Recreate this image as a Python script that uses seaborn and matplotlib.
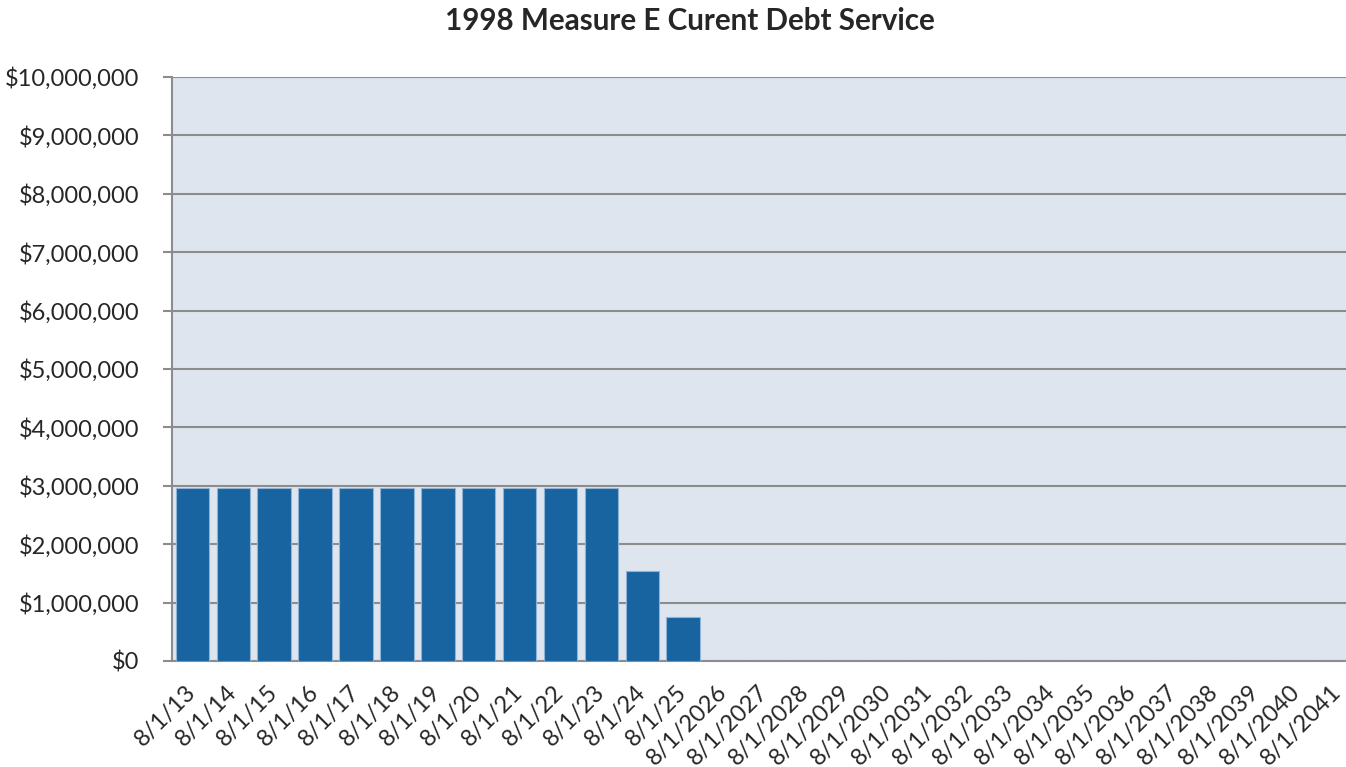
import matplotlib
matplotlib.use("Agg")
import matplotlib.pyplot as plt
from matplotlib.ticker import FuncFormatter, FixedLocator
import seaborn as sns
import pandas as pd
import numpy as np

# Debt service payment dates and amounts
dates = ["8/1/13", "8/1/14", "8/1/15", "8/1/16", "8/1/17", "8/1/18", "8/1/19",
         "8/1/20", "8/1/21", "8/1/22", "8/1/23", "8/1/24", "8/1/25",
         "8/1/2026", "8/1/2027", "8/1/2028", "8/1/2029", "8/1/2030", "8/1/2031",
         "8/1/2032", "8/1/2033", "8/1/2034", "8/1/2035", "8/1/2036", "8/1/2037",
         "8/1/2038", "8/1/2039", "8/1/2040", "8/1/2041"]
payments = [2955000, 2955000, 2955000, 2955000, 2955000, 2955000, 2955000,
            2955000, 2955000, 2955000, 2955000, 1540000, 750000,
            0, 0, 0, 0, 0, 0, 0, 0, 0, 0, 0, 0, 0, 0, 0, 0]
title = "1998 Measure E Curent Debt Service"

df = pd.DataFrame({"date": dates, "payment": payments})

sns.set_style("white")
plt.rcParams["font.family"] = ["Lato", "DejaVu Sans"]

W, H = 1346, 767
left, right, top, bottom = 172, 1358, 77, 661
fig = plt.figure(figsize=(W / 100, H / 100), dpi=100)
ax = fig.add_axes([left / W, 1 - bottom / H, (right - left) / W, (bottom - top) / H])
ax.set_facecolor("#DFE5EF")

sns.barplot(data=df, x="date", y="payment", color="#1764A0", width=0.82,
            edgecolor="#8FB3D6", linewidth=0.8, saturation=1, ax=ax, zorder=3)

ax.set_xlim(-0.5, len(dates) - 0.5)
ax.set_ylim(0, 10_000_000)
ax.set_yticks(np.arange(0, 10_000_001, 1_000_000))
ax.yaxis.set_major_formatter(FuncFormatter(lambda v, p: f"${v:,.0f}"))
ax.grid(axis="y", color="#8C8C8C", linewidth=1.5, zorder=1)
ax.set_axisbelow(True)

# category labels at centres, tick marks at category boundaries
ax.set_xticks(range(len(dates)))
ax.set_xticklabels(dates, rotation=45, ha="right", va="center",
                   rotation_mode="anchor")
ax.xaxis.set_minor_locator(FixedLocator(np.arange(-0.5, len(dates), 1.0)))
ax.tick_params(axis="x", which="major", length=0, pad=20, labelsize=17)
ax.tick_params(axis="x", which="minor", length=6, width=1.5, color="#8C8C8C")
ax.tick_params(axis="y", which="major", length=6.5, width=1.5, color="#8C8C8C",
               pad=17, labelsize=17, left=True)

for side in ["top", "right"]:
    ax.spines[side].set_visible(False)
for side in ["left", "bottom"]:
    ax.spines[side].set_color("#8C8C8C")
    ax.spines[side].set_linewidth(1.5)

ax.set_xlabel("")
ax.set_ylabel("")
fig.text(690 / W, 1 - 21 / H, title, ha="center", va="center",
         fontsize=21.3, fontweight="bold")

fig.savefig("out.png", dpi=100)
